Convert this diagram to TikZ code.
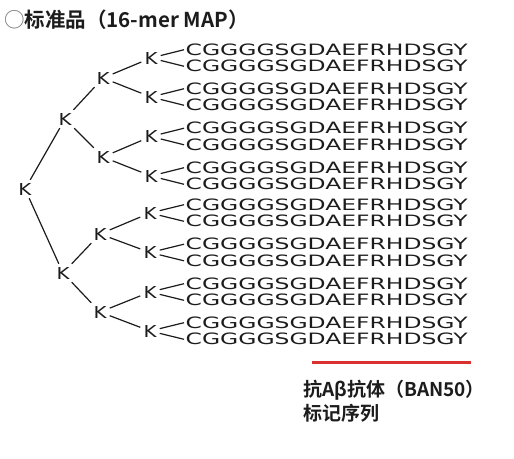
\documentclass[tikz,border=0pt]{standalone}
\usepackage{fontspec}
\setmainfont{DejaVu Sans}
\newfontfamily\cjk{Noto Sans CJK SC}[BoldFont={Noto Sans CJK SC Bold}]
\usepackage{graphicx}
\usepackage{xcolor}
\definecolor{mapInk}{RGB}{28,28,28}
\definecolor{mapRed}{RGB}{218,48,48}
\definecolor{mapGrey}{RGB}{110,110,110}
\usepackage{tikz}
\usetikzlibrary{positioning}
\newcommand\seqtxt{\resizebox{282pt}{11.6pt}{CGGGGSGDAEFRHDSGY}}
\newcommand\lys{\resizebox{13pt}{12pt}{K}}

\begin{document}
\begin{tikzpicture}[x=1pt,y=-1pt,
  k/.style={inner sep=3pt,text=mapInk},
  sq/.style={anchor=west,inner sep=1.5pt,text=mapInk},
  ln/.style={mapInk,line width=1.2pt},
  t/.style={anchor=west,inner sep=0pt,text=mapInk,font=\cjk\bfseries\fontsize{19pt}{23pt}\selectfont}]
  \useasboundingbox (0,0) rectangle (514,458);
  \node[t,font=\cjk\bfseries\fontsize{20.5pt}{24pt}\selectfont] (title) at (4,20) {{\mdseries\color{mapGrey}○}标准品（16-mer MAP）};
  % lysine core
  \node[k] (r) at (25,189) {\lys};
  \node[k] (a) at (65,119) {\lys};
  \node[k] (b) at (63,273) {\lys};
  \node[k] (aa) at (103,78) {\lys};
  \node[k] (ab) at (103,157) {\lys};
  \node[k] (ba) at (100,234) {\lys};
  \node[k] (bb) at (100,312) {\lys};
  \node[k] (aaa) at (151,58) {\lys};
  \node[k] (aab) at (151,97) {\lys};
  \node[k] (aba) at (151,136.5) {\lys};
  \node[k] (abb) at (151,176) {\lys};
  \node[k] (baa) at (150,213) {\lys};
  \node[k] (bab) at (150,252.5) {\lys};
  \node[k] (bba) at (150,292) {\lys};
  \node[k] (bbb) at (150,331) {\lys};
  % peptide arms
  \node[sq] (s1) at (184,49.7) {\seqtxt};
  \node[sq] (s2) at (184,66.3) {\seqtxt};
  \node[sq] (s3) at (184,88.7) {\seqtxt};
  \node[sq] (s4) at (184,105.3) {\seqtxt};
  \node[sq] (s5) at (184,128.2) {\seqtxt};
  \node[sq] (s6) at (184,144.8) {\seqtxt};
  \node[sq] (s7) at (184,167.7) {\seqtxt};
  \node[sq] (s8) at (184,184.3) {\seqtxt};
  \node[sq] (s9) at (184,204.7) {\seqtxt};
  \node[sq] (s10) at (184,221.3) {\seqtxt};
  \node[sq] (s11) at (184,244.2) {\seqtxt};
  \node[sq] (s12) at (184,260.8) {\seqtxt};
  \node[sq] (s13) at (184,283.7) {\seqtxt};
  \node[sq] (s14) at (184,300.3) {\seqtxt};
  \node[sq] (s15) at (184,322.7) {\seqtxt};
  \node[sq] (s16) at (184,339.3) {\seqtxt};
  \draw[ln] (r) -- (a);
  \draw[ln] (r) -- (b);
  \draw[ln] (a) -- (aa);
  \draw[ln] (a) -- (ab);
  \draw[ln] (b) -- (ba);
  \draw[ln] (b) -- (bb);
  \draw[ln] (aa) -- (aaa);
  \draw[ln] (aa) -- (aab);
  \draw[ln] (ab) -- (aba);
  \draw[ln] (ab) -- (abb);
  \draw[ln] (ba) -- (baa);
  \draw[ln] (ba) -- (bab);
  \draw[ln] (bb) -- (bba);
  \draw[ln] (bb) -- (bbb);
  \draw[ln] (aaa) -- (s1.west);
  \draw[ln] (aaa) -- (s2.west);
  \draw[ln] (aab) -- (s3.west);
  \draw[ln] (aab) -- (s4.west);
  \draw[ln] (aba) -- (s5.west);
  \draw[ln] (aba) -- (s6.west);
  \draw[ln] (abb) -- (s7.west);
  \draw[ln] (abb) -- (s8.west);
  \draw[ln] (baa) -- (s9.west);
  \draw[ln] (baa) -- (s10.west);
  \draw[ln] (bab) -- (s11.west);
  \draw[ln] (bab) -- (s12.west);
  \draw[ln] (bba) -- (s13.west);
  \draw[ln] (bba) -- (s14.west);
  \draw[ln] (bbb) -- (s15.west);
  \draw[ln] (bbb) -- (s16.west);
  % epitope bar and label
  \coordinate (barL) at (312,362.5);
  \coordinate (barR) at (471,362.5);
  \draw[mapRed,line width=3pt] (barL) -- (barR);
  \node[t] (lbl1) at (303,390) {抗Aβ抗体（BAN50）};
  \node[t] (lbl2) at (303,413) {标记序列};
\end{tikzpicture}
\end{document}
